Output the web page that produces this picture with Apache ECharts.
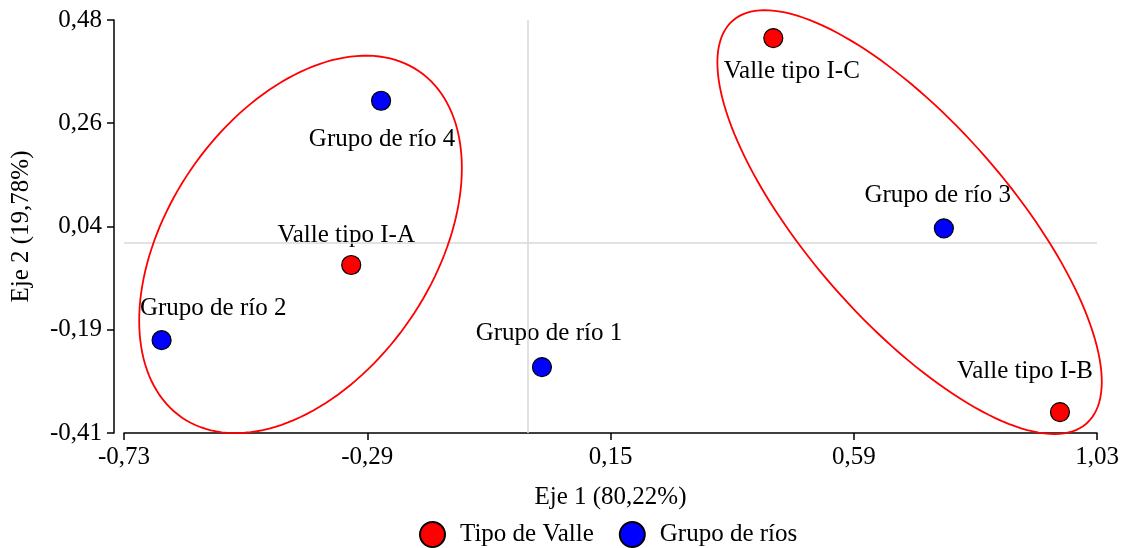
<!DOCTYPE html>
<html>
<head>
<meta charset="utf-8">
<title>Eje 1 / Eje 2</title>
<script src="https://cdn.jsdelivr.net/npm/echarts@6/dist/echarts.min.js"></script>
<style>
  html, body { margin: 0; padding: 0; background: #fff; }
  #chart { width: 1122px; height: 548px; }
</style>
</head>
<body>
<div id="chart"></div>
<script>
// Valley types (red) and river groups (blue) on the two first axes
const valleNames = ['Valle tipo I-A', 'Valle tipo I-B', 'Valle tipo I-C'];
const valleX = [-0.319, 0.963, 0.4445];
const valleY = [-0.048, -0.365, 0.441];

const grupoNames = ['Grupo de río 1', 'Grupo de río 2', 'Grupo de río 3', 'Grupo de río 4'];
const grupoX = [0.026, -0.662, 0.753, -0.265];
const grupoY = [-0.268, -0.210, 0.031, 0.306];

// Axis ticks and their printed labels (decimal comma)
const xTicks = [-0.73, -0.29, 0.15, 0.59, 1.03];
const xTickLabels = ['-0,73', '-0,29', '0,15', '0,59', '1,03'];
const yTicks = [-0.41, -0.1875, 0.035, 0.2575, 0.48];
const yTickLabels = ['-0,41', '-0,19', '0,04', '0,26', '0,48'];

// Grouping ellipses: centre plus two semi-axis vectors, in axis units
const ellipseCenters = [[-0.4107, -0.0036], [0.6910, 0.0445]];
const ellipseMajor = [[0.2142, 0.3733], [0.3200, -0.4340]];
const ellipseMinor = [[-0.1982, 0.1614], [0.1359, 0.1422]];

// Label placement (pixel offsets from each marker's centre)
const valleLabelOffset = [[-5, -29.5], [-35, -40.5], [18.5, 33.4]];
const grupoLabelOffset = [[7, -33.3], [51.6, -32.2], [-6.2, -33], [1, 38.6]];

const FONT = 'Liberation Serif';
const FONT_SIZE = 25;

function pointData(xs, ys, names, offsets) {
  return xs.map((x, i) => ({
    value: [x, ys[i]],
    name: names[i],
    label: { offset: offsets[i] }
  }));
}

function tickFormatter(ticks, labels) {
  return function (v) {
    let best = 0;
    for (let i = 1; i < ticks.length; i++) {
      if (Math.abs(ticks[i] - v) < Math.abs(ticks[best] - v)) best = i;
    }
    return labels[best];
  };
}

const pointLabel = {
  show: true,
  position: 'inside',
  formatter: '{b}',
  color: '#000',
  fontFamily: FONT,
  fontSize: FONT_SIZE,
  backgroundColor: '#fff',
  padding: [3, 2]
};

const chart = echarts.init(document.getElementById('chart'), null, { renderer: 'canvas' });

chart.setOption({
  animation: false,
  textStyle: { fontFamily: FONT, color: '#000' },
  grid: { left: 124, right: 25, top: 20, bottom: 115, containLabel: false, outerBoundsMode: 'none' },
  legend: {
    left: 414,
    top: 516,
    data: ['Tipo de Valle', 'Grupo de ríos'],
    icon: 'circle',
    itemWidth: 45,
    itemHeight: 25,
    itemGap: 25,
    textStyle: { fontFamily: FONT, fontSize: FONT_SIZE, color: '#000' },
    selectedMode: false
  },
  xAxis: {
    type: 'value',
    min: -0.73,
    max: 1.03,
    name: 'Eje 1 (80,22%)',
    nameLocation: 'middle',
    nameGap: 52,
    nameTextStyle: { fontFamily: FONT, fontSize: FONT_SIZE, color: '#000' },
    axisLine: { show: true, onZero: false, lineStyle: { color: '#000', width: 1.5 } },
    axisTick: { show: true, length: 7, lineStyle: { color: '#000', width: 1.5 }, customValues: xTicks },
    axisLabel: {
      customValues: xTicks,
      formatter: tickFormatter(xTicks, xTickLabels),
      fontFamily: FONT, fontSize: FONT_SIZE, color: '#000', margin: 12
    },
    splitLine: { show: false }
  },
  yAxis: {
    type: 'value',
    min: -0.41,
    max: 0.48,
    offset: 10,
    name: 'Eje 2 (19,78%)',
    nameLocation: 'middle',
    nameGap: 80,
    nameTextStyle: { fontFamily: FONT, fontSize: FONT_SIZE, color: '#000' },
    axisLine: { show: true, onZero: false, lineStyle: { color: '#000', width: 1.5 } },
    axisTick: { show: true, length: 7, lineStyle: { color: '#000', width: 1.5 }, customValues: yTicks },
    axisLabel: {
      customValues: yTicks,
      formatter: tickFormatter(yTicks, yTickLabels),
      fontFamily: FONT, fontSize: FONT_SIZE, color: '#000', margin: 12
    },
    splitLine: { show: false }
  },
  series: [
    {
      // origin reference lines
      name: 'origen',
      type: 'scatter',
      data: [],
      z: 1,
      silent: true,
      markLine: {
        silent: true,
        symbol: 'none',
        animation: false,
        label: { show: false },
        lineStyle: { color: '#d9d9d9', type: 'solid', width: 1.5 },
        data: [{ xAxis: 0 }, { yAxis: 0 }]
      }
    },
    {
      name: 'Tipo de Valle',
      type: 'scatter',
      z: 3,
      symbol: 'circle',
      symbolSize: 19,
      itemStyle: { color: '#ff0000', borderColor: '#000', borderWidth: 1.2, opacity: 1 },
      label: pointLabel,
      data: pointData(valleX, valleY, valleNames, valleLabelOffset)
    },
    {
      name: 'Grupo de ríos',
      type: 'scatter',
      z: 3,
      symbol: 'circle',
      symbolSize: 19,
      itemStyle: { color: '#0000ff', borderColor: '#000', borderWidth: 1.2, opacity: 1 },
      label: pointLabel,
      data: pointData(grupoX, grupoY, grupoNames, grupoLabelOffset)
    },
    {
      name: 'elipses',
      type: 'custom',
      z: 5,
      silent: true,
      clip: false,
      data: ellipseCenters.map((c, i) => [i]),
      encode: { x: -1, y: -1 },
      renderItem: function (params, api) {
        const i = api.value(0);
        const c = ellipseCenters[i], u = ellipseMajor[i], w = ellipseMinor[i];
        const pts = [];
        const n = 160;
        for (let k = 0; k < n; k++) {
          const t = (2 * Math.PI * k) / n;
          const ct = Math.cos(t), st = Math.sin(t);
          pts.push(api.coord([c[0] + ct * u[0] + st * w[0], c[1] + ct * u[1] + st * w[1]]));
        }
        return {
          type: 'polygon',
          shape: { points: pts },
          style: { fill: 'none', stroke: '#ff0000', lineWidth: 1.8 }
        };
      }
    }
  ]
});
</script>
</body>
</html>
